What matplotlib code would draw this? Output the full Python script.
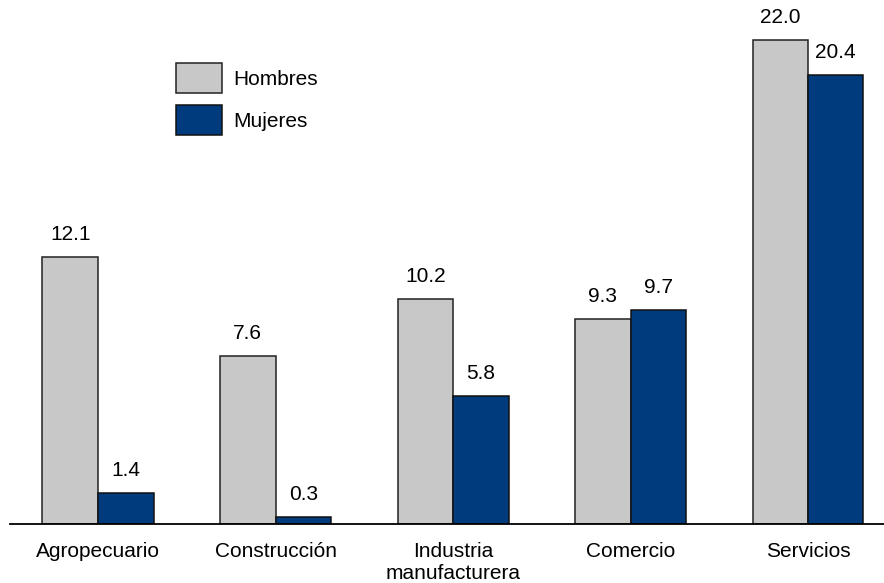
import matplotlib
matplotlib.use("Agg")
import matplotlib.pyplot as plt
import numpy as np

plt.rcParams['font.family'] = ['Liberation Sans', 'DejaVu Sans']

categories = ["Agropecuario", "Construcción", "Industria\nmanufacturera", "Comercio", "Servicios"]
hombres = [12.1, 7.6, 10.2, 9.3, 22.0]
mujeres = [1.4, 0.3, 5.8, 9.7, 20.4]
series_names = ["Hombres", "Mujeres"]

c_h = "#C8C8C8"
c_m = "#003B7D"
FS = 15

fig = plt.figure(figsize=(8.84, 5.83), dpi=100)
ax = fig.add_axes([10/884, (583-523.5)/583, 1 - 10/884, 523.5/583])

x = np.arange(len(categories))
w = 55.5/177.5
b1 = ax.bar(x - w/2, hombres, w, color=c_h, edgecolor="#222222", linewidth=1.1, label=series_names[0])
b2 = ax.bar(x + w/2, mujeres, w, color=c_m, edgecolor="#111111", linewidth=1.1, label=series_names[1])

for bars, vals in ((b1, hombres), (b2, mujeres)):
    for r, v in zip(bars, vals):
        ax.annotate(f"{v:.1f}", (r.get_x() + r.get_width()/2, v), xytext=(0, 12.2),
                    textcoords="offset points", ha="center", va="baseline", fontsize=FS)

ax.set_xlim(-88/177.5, 786/177.5)
ax.set_ylim(0, 523.5/21.99)
for s in ("top", "right", "left"):
    ax.spines[s].set_visible(False)
ax.spines["bottom"].set_linewidth(1.3)
ax.set_yticks([])
ax.set_xticks(x)
ax.set_xticklabels(categories, fontsize=FS, linespacing=1.25)
ax.tick_params(axis="x", length=0, pad=13)

leg = ax.legend(loc="upper left", bbox_to_anchor=((176-10)/874, 1 - 63/523.5), frameon=False,
                fontsize=FS, handlelength=2.2, handleheight=1.84, labelspacing=0.58,
                handletextpad=0.53, borderaxespad=0, borderpad=0)

fig.savefig("out.png", dpi=100)
